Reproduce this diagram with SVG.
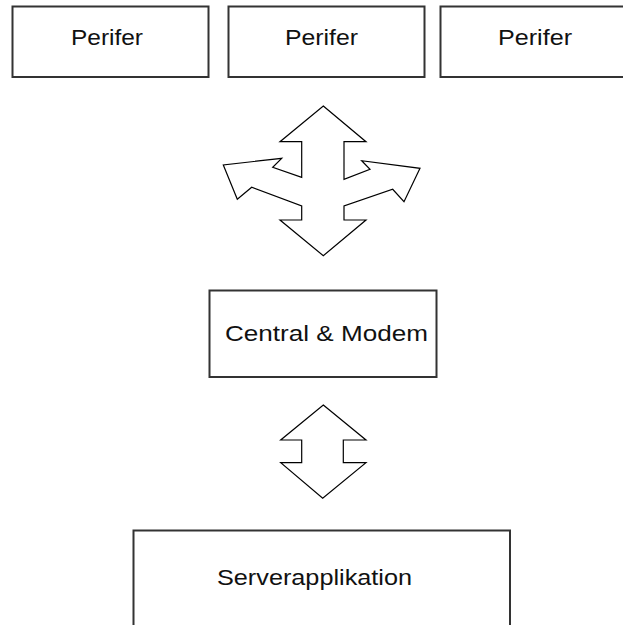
<svg xmlns="http://www.w3.org/2000/svg" width="623" height="625" viewBox="0 0 623 625">
  <style>
    .box { fill: #ffffff; stroke: #333333; stroke-width: 2; }
    .label { font-family: "Liberation Sans", Arial, sans-serif; font-size: 22px; fill: #111111; }
    .arrow { fill: #ffffff; stroke: #000000; stroke-width: 1.2; stroke-linejoin: miter; }
  </style>
  <rect width="623" height="625" fill="#ffffff"/>

  <g id="perifer-1">
    <rect class="box" x="12.5" y="6.5" width="196" height="70.5"/>
    <text class="label" x="71" y="45" textLength="72" lengthAdjust="spacingAndGlyphs">Perifer</text>
  </g>
  <g id="perifer-2">
    <rect class="box" x="228.5" y="6.5" width="196" height="70.5"/>
    <text class="label" x="285" y="45" textLength="73" lengthAdjust="spacingAndGlyphs">Perifer</text>
  </g>
  <g id="perifer-3">
    <rect class="box" x="440.5" y="6.5" width="196" height="70.5"/>
    <text class="label" x="498" y="45" textLength="74" lengthAdjust="spacingAndGlyphs">Perifer</text>
  </g>

  <g id="central">
    <rect class="box" x="209.5" y="290.5" width="227" height="86.5"/>
    <text class="label" x="225" y="340.5" textLength="203" lengthAdjust="spacingAndGlyphs">Central &amp; Modem</text>
  </g>

  <g id="server">
    <rect class="box" x="133.5" y="530.5" width="376.5" height="110"/>
    <text class="label" x="217" y="584.5" textLength="195" lengthAdjust="spacingAndGlyphs">Serverapplikation</text>
  </g>

  <g id="connectors">
    <!-- four-way block arrow between the peripherals and the central unit -->
    <polygon class="arrow" points="323.3,106 366,141.7 344,141.7 344,179.3 370,169.3 361.7,160.7 420,168.3 404,201.7 392.7,189.3 344,206 344,220 366,220 323.3,255.7 280,220 301.7,220 301.7,206 251.7,187.3 237.3,199.3 223.3,165 281.7,158.3 272.7,167.3 301.7,177.3 301.7,141.7 280,141.7"/>
    <!-- two-way block arrow between the central unit and the server -->
    <polygon class="arrow" points="323.3,405 366,440 343.3,440 343.3,462.7 366,462.7 322.7,498.3 280.7,462.7 301.7,462.7 301.7,440 280.7,440"/>
  </g>
</svg>
